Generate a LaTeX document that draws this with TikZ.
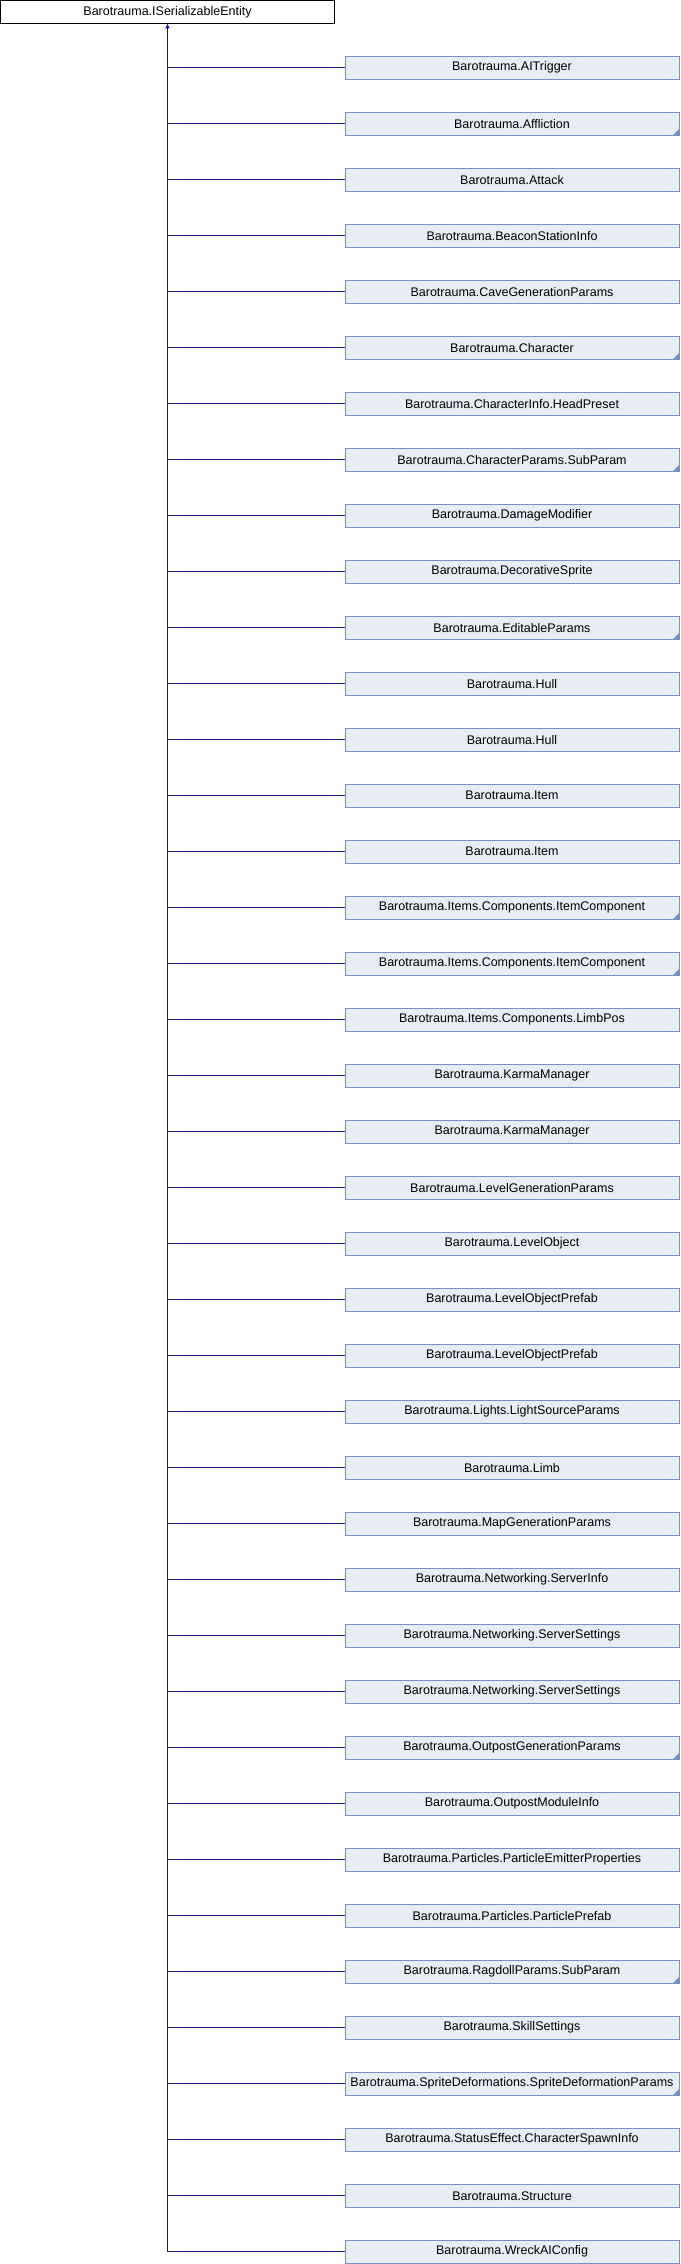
\documentclass[tikz,border=0pt]{standalone}
\usepackage{fontspec}
\setmainfont{Liberation Sans}
\usetikzlibrary{arrows.meta}
\definecolor{edgeblue}{RGB}{24,24,140}
\definecolor{boxline}{RGB}{122,143,199}
\definecolor{boxfill}{RGB}{232,236,245}
\tikzset{
	classbox/.style={draw=boxline, fill=boxfill, line width=1pt, minimum width=334pt, minimum height=23pt, inner sep=0pt, outer sep=0pt, font=\fontsize{12.5}{14}\selectfont},
	basebox/.style={classbox, draw=black, fill=white},
	inherit/.style={draw=edgeblue, line width=1pt},
}
\begin{document}
\begin{tikzpicture}[x=1pt,y=-1pt]
	\useasboundingbox (0,0) rectangle (680,2264);
	\node[basebox] (base) at (167.5,12) {Barotrauma.ISerializableEntity};

	\foreach \name/\more [count=\i from 0] in {AITrigger/0, Affliction/1, Attack/0, BeaconStationInfo/0, CaveGenerationParams/0, Character/1, CharacterInfo.HeadPreset/0, CharacterParams.SubParam/1, DamageModifier/0, DecorativeSprite/0, EditableParams/1, Hull/0, Hull/0, Item/0, Item/0, Items.Components.ItemComponent/1, Items.Components.ItemComponent/1, Items.Components.LimbPos/0, KarmaManager/0, KarmaManager/0, LevelGenerationParams/0, LevelObject/0, LevelObjectPrefab/0, LevelObjectPrefab/0, Lights.LightSourceParams/0, Limb/0, MapGenerationParams/0, Networking.ServerInfo/0, Networking.ServerSettings/0, Networking.ServerSettings/0, OutpostGenerationParams/1, OutpostModuleInfo/0, Particles.ParticleEmitterProperties/0, Particles.ParticlePrefab/0, RagdollParams.SubParam/1, SkillSettings/0, SpriteDeformations.SpriteDeformationParams/1, StatusEffect.CharacterSpawnInfo/0, Structure/0, WreckAIConfig/0}{
		\node[classbox] (c\i) at (512,{67.7+56*\i}) {Barotrauma.\name};
		\ifnum\more=1
			\fill[boxline] (c\i.south east) -- ++(-6,0) -- ++(6,-6) -- cycle;
		\fi
		\draw[inherit] (c\i.west) -- (c\i.west -| base.south);
	}

	\draw[inherit, -{Latex[length=5pt,width=5pt]}] (c39.west -| base.south) -- (base.south);
\end{tikzpicture}
\end{document}
